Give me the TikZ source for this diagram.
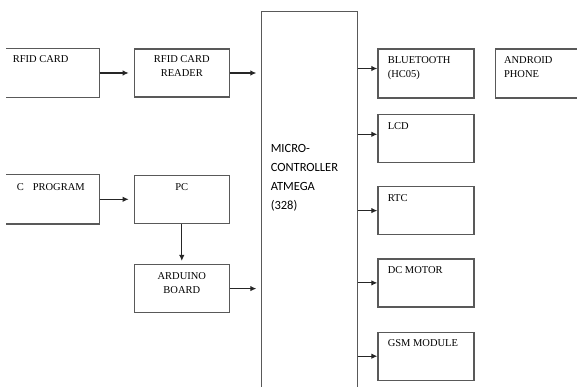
\documentclass[tikz,border=0pt]{standalone}
\usepackage{fontspec}
\setmainfont{Liberation Serif}
\newfontfamily\mcufont{Carlito}
\usepackage{tikz}
\usetikzlibrary{arrows.meta,positioning}

\begin{document}
\begin{tikzpicture}[x=1pt, y=1pt, node distance=34pt, >={Latex[length=6pt,width=5.5pt]}, thick]
  \tikzstyle{block} = [rectangle, draw=black!65, line width=1.3pt, minimum width=95pt, minimum height=48pt, inner sep=0pt]
  \tikzstyle{openblock} = [block, draw=none, minimum width=92pt]
  \tikzstyle{lefttxt} = [anchor=north west, xshift=10pt, yshift=-8pt, inner sep=0pt, align=left, font=\fontsize{10.5}{14}\selectfont]
  \tikzstyle{midtxt} = [anchor=north, yshift=-8pt, inner sep=0pt, align=center, font=\fontsize{10.5}{14}\selectfont]
  \tikzstyle{link} = [->, draw=black!85, line width=1.1pt, shorten >=5pt]
  \tikzstyle{outlink} = [->, draw=black!85, line width=1.1pt]

  \useasboundingbox (0,0) rectangle (577,-387);

  % inputs
  \node[openblock, label={[lefttxt, xshift=-4pt, yshift=1pt]north west:RFID CARD}] (rfid) at (53,-73) {};
  \node[block, right=34pt of rfid, label={[midtxt, yshift=1pt]north:RFID CARD\\READER}] (reader) {};
  \node[block, below=77pt of reader, label={[midtxt]north:PC}] (pc) {};
  \node[openblock, left=34pt of pc, label={[lefttxt]north west:C\hspace{9pt}PROGRAM}] (cprog) {};
  \node[block, below=40pt of pc, label={[midtxt]north:ARDUINO\\BOARD}] (arduino) {};
  \draw[draw=black!65, line width=1.3pt] (rfid.north west) -| (rfid.south east) -- (rfid.south west);
  \draw[draw=black!65, line width=1.3pt] (cprog.north west) -| (cprog.south east) -- (cprog.south west);

  % controller
  \node[block, draw=none, minimum height=383pt] (mcu) at (309.5,-203.5) {};
  \draw[draw=black!65, line width=1.3pt] (mcu.south west) |- (mcu.north east) -- (mcu.south east);
  \node[anchor=north west, inner sep=0pt, align=left, font=\mcufont\fontsize{12.5}{19}\selectfont]
    (mcutxt) at ([xshift=9pt, yshift=-133pt]mcu.north west) {MICRO-\\CONTROLLER\\ATMEGA\\(328)};

  % outputs
  \node[block, minimum width=96pt, minimum height=49pt, label={[lefttxt]north west:BLUETOOTH\\(HC05)}] (bt) at (426,-73.5) {};
  \node[block, minimum width=82pt, minimum height=49pt, right=20pt of bt, label={[lefttxt, xshift=-1pt]north west:ANDROID\\PHONE}] (phone) {};
  \node[block, minimum width=96pt, below=15pt of bt, label={[lefttxt]north west:LCD}] (lcd) {};
  \node[block, minimum width=96pt, below=23pt of lcd, label={[lefttxt]north west:RTC}] (rtc) {};
  \node[block, minimum width=96pt, below=23pt of rtc, label={[lefttxt]north west:DC MOTOR}] (motor) {};
  \node[block, minimum width=96pt, below=24pt of motor, label={[lefttxt]north west:GSM MODULE}] (gsm) {};

  % links
  \draw[link] (rfid.east) -- (reader.west);
  \draw[link] (reader.east) -- (reader.east -| mcu.west);
  \draw[link] (cprog.east) -- (pc.west);
  \draw[link, shorten >=3pt] (pc.south) -- (arduino.north);
  \draw[link] (arduino.east) -- (arduino.east -| mcu.west);
  \draw[outlink] ([yshift=5pt]bt.west -| mcu.east) -- ([yshift=5pt]bt.west);
  \draw[outlink] ([yshift=4pt]lcd.west -| mcu.east) -- ([yshift=4pt]lcd.west);
  \draw[outlink] (rtc.west -| mcu.east) -- (rtc.west);
  \draw[outlink] (motor.west -| mcu.east) -- (motor.west);
  \draw[outlink] (gsm.west -| mcu.east) -- (gsm.west);
\end{tikzpicture}
\end{document}
